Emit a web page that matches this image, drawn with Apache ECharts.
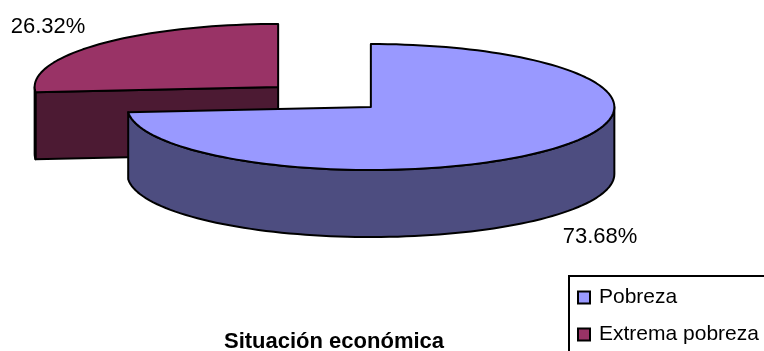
<!DOCTYPE html>
<html>
<head>
<meta charset="utf-8">
<style>
  html, body { margin: 0; padding: 0; background: #fff; }
  #chart { width: 764px; height: 351px; }
</style>
<script src="https://cdn.jsdelivr.net/npm/echarts@6/dist/echarts.min.js"></script>
</head>
<body>
<div id="chart"></div>
<script>
// data
const sliceNames = ['Pobreza', 'Extrema pobreza']
const sliceValues = [73.68, 26.32]
const topColors = ['#9999FF', '#993366']
const sideColors = ['#4D4D80', '#4C1A33']
const chartTitle = 'Situación económica'

// 3D pie layout
const pie = { cx: 324.5, cy: 97, rx: 243.5, ry: 63, depth: 67, explode: 63, explodeY: 0.235 }
const labelPos = [[600, 237], [48, 27]]
const FONT = '"Liberation Sans", Arial, sans-serif'

const total = sliceValues.reduce((a, b) => a + b, 0)
const rad = (d) => d * Math.PI / 180

// 从12点方向顺时针计算角度
const angleRange = (index) => {
  let start = 0
  for (let i = 0; i < index; i++) start += sliceValues[i] / total * 360
  return [start, start + sliceValues[index] / total * 360]
}

const arcPoints = (c, from, to) => {
  const pts = []
  const steps = Math.max(2, Math.ceil((to - from) / 2))
  for (let i = 0; i <= steps; i++) {
    const a = rad(from + (to - from) * i / steps)
    pts.push([c[0] + pie.rx * Math.sin(a), c[1] - pie.ry * Math.cos(a)])
  }
  return pts
}

const lineStyle = (fill) => ({ fill, stroke: '#000', lineWidth: 2, lineJoin: 'round' })

const renderSlice = (params, api) => {
  const i = params.seriesIndex
  const [start, end] = angleRange(i)
  const mid = rad((start + end) / 2)
  const c = [
    pie.cx + pie.explode * Math.sin(mid),
    pie.cy - pie.explode * pie.explodeY * Math.cos(mid)
  ]
  const down = (p) => [p[0], p[1] + pie.depth]
  const children = []

  // 侧面切口
  const cutFace = (a) => {
    const rim = arcPoints(c, a, a)[0]
    children.push({
      type: 'polygon',
      shape: { points: [c, rim, down(rim), down(c)] },
      style: lineStyle(sideColors[i])
    })
  }
  if (Math.sin(rad(start)) < -1e-6) cutFace(start)
  if (Math.sin(rad(end)) > 1e-6) cutFace(end)

  // 外壁
  const wallFrom = Math.max(start, 90)
  const wallTo = Math.min(end, 270)
  if (wallTo > wallFrom) {
    const rim = arcPoints(c, wallFrom, wallTo)
    children.push({
      type: 'polygon',
      shape: { points: rim.concat(rim.map(down).reverse()) },
      style: lineStyle(sideColors[i])
    })
  }

  // 顶面
  children.push({
    type: 'polygon',
    shape: { points: [c].concat(arcPoints(c, start, end)) },
    style: lineStyle(topColors[i])
  })

  children.push({
    type: 'text',
    x: labelPos[i][0],
    y: labelPos[i][1],
    style: {
      text: api.value(0).toFixed(2) + '%',
      font: '22px ' + FONT,
      fill: '#000',
      align: 'center',
      verticalAlign: 'middle'
    }
  })
  return { type: 'group', children }
}

const chart = echarts.init(document.getElementById('chart'))
chart.setOption({
  animation: false,
  title: {
    text: chartTitle,
    left: 329,
    textAlign: 'center',
    top: 326,
    textStyle: { fontFamily: FONT, fontSize: 22, fontWeight: 'bold', color: '#000' }
  },
  legend: {
    orient: 'vertical',
    left: 569,
    top: 276,
    height: 100,
    padding: [11, 20, 20, 8],
    itemGap: 16,
    itemWidth: 12,
    itemHeight: 12,
    icon: 'rect',
    borderColor: '#000',
    borderWidth: 2,
    backgroundColor: '#fff',
    itemStyle: { borderColor: '#000', borderWidth: 2 },
    textStyle: { fontFamily: FONT, fontSize: 21, color: '#000', padding: [0, 0, 0, 4] },
    data: sliceNames
  },
  series: sliceNames.map((name, i) => ({
    name,
    type: 'custom',
    coordinateSystem: 'none',
    z: i === 0 ? 3 : 2,
    itemStyle: { color: topColors[i] },
    renderItem: renderSlice,
    data: [[sliceValues[i]]]
  }))
})
</script>
</body>
</html>
